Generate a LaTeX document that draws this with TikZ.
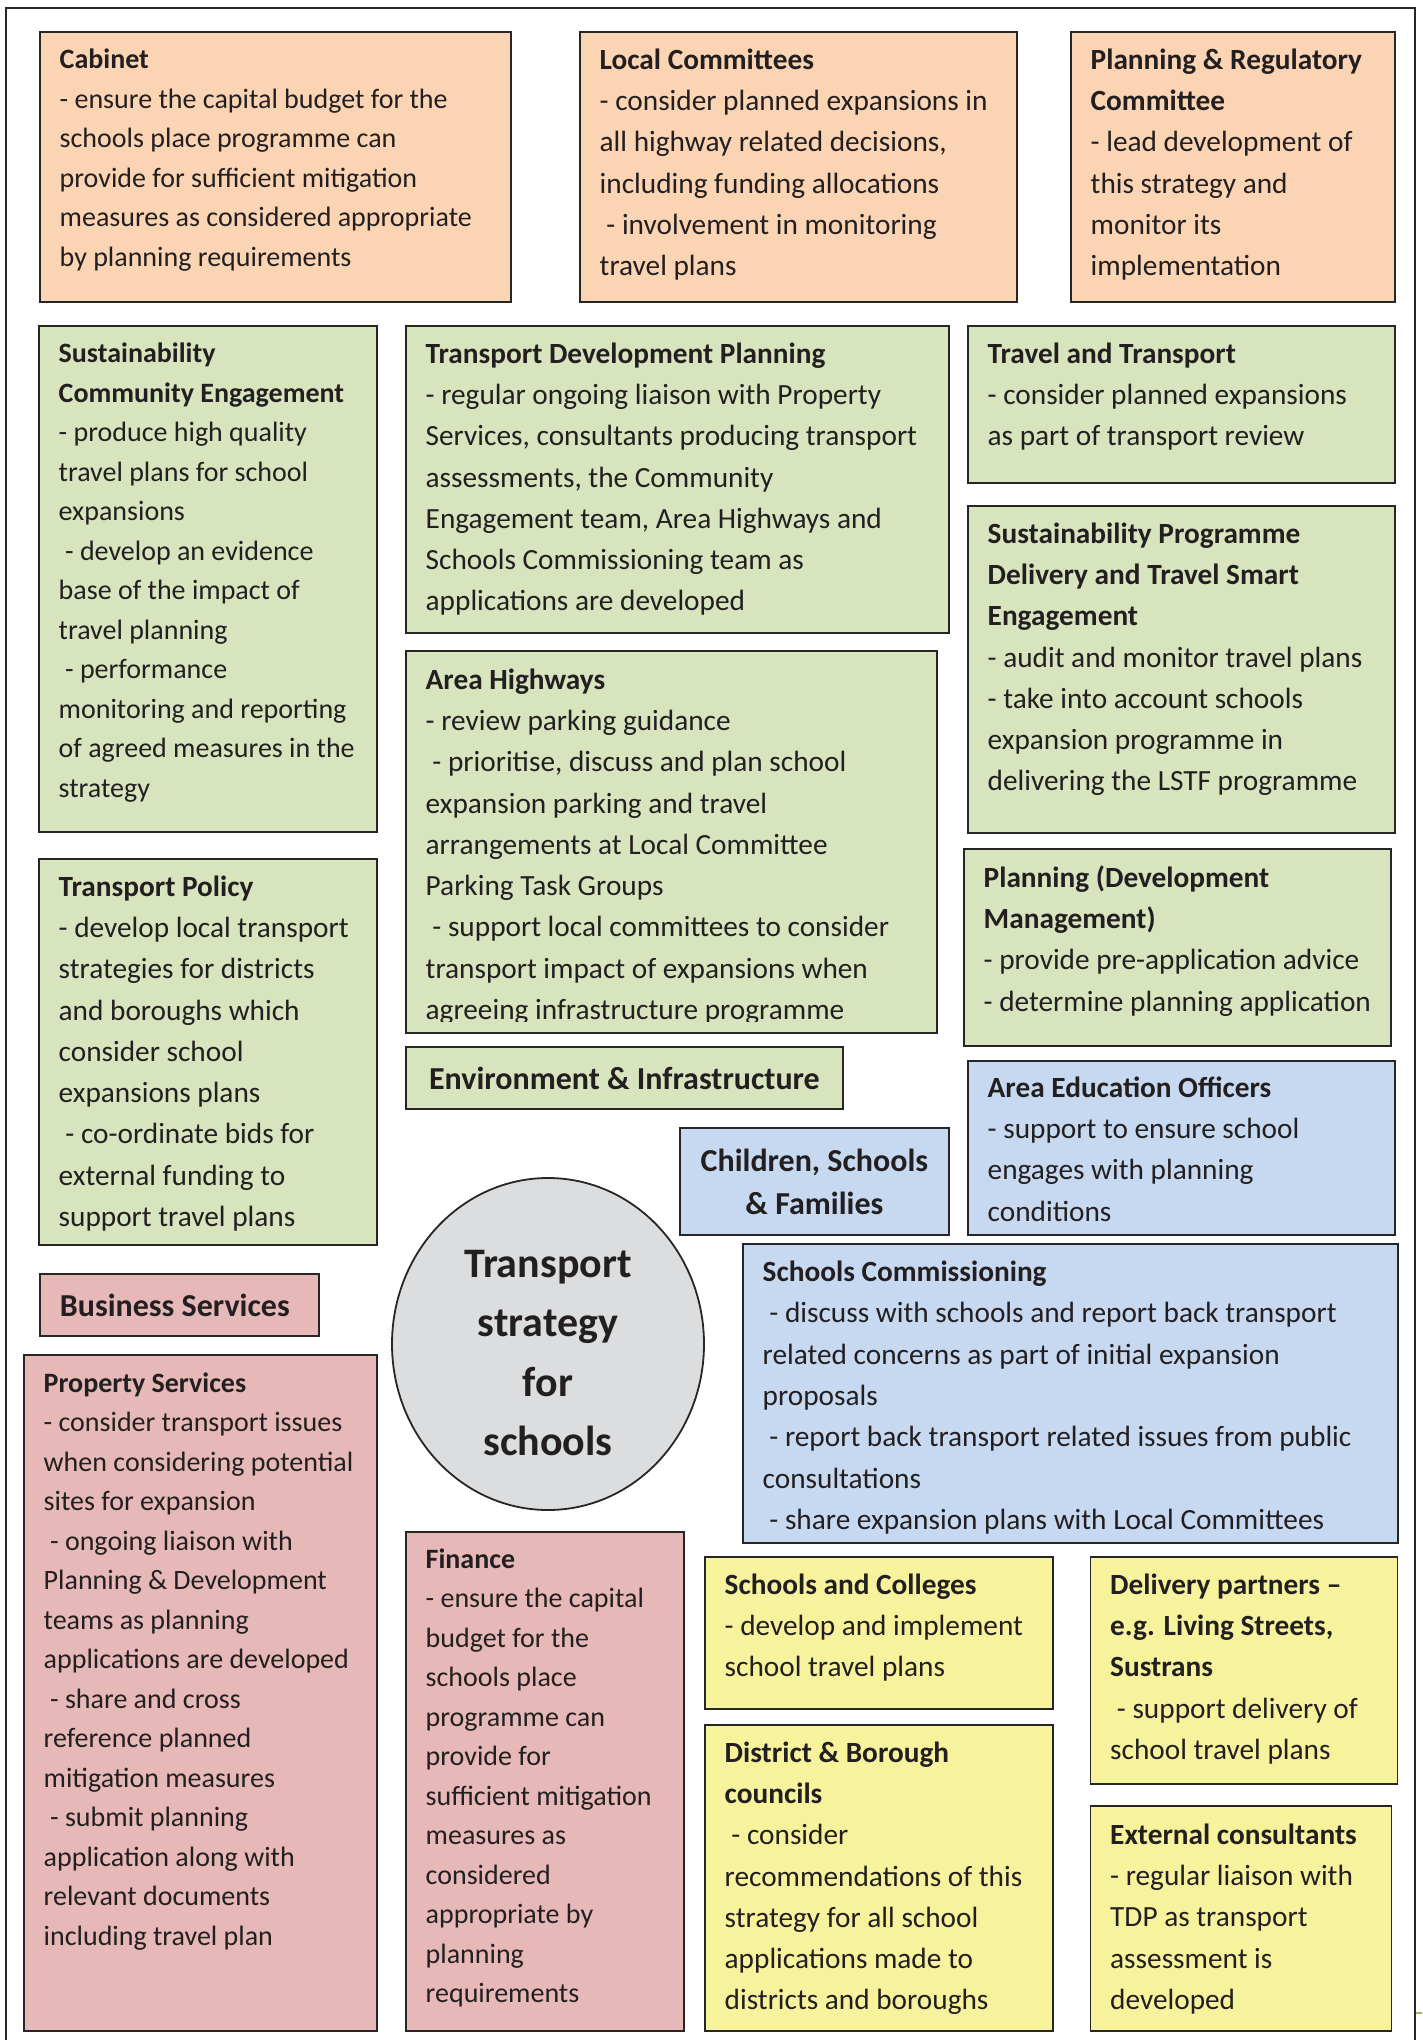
\documentclass[tikz,border=0pt]{standalone}
\usepackage{fontspec}
\setmainfont{Carlito}
\usetikzlibrary{shapes.geometric}

\definecolor{boxpeach}{HTML}{FBD4B4}
\definecolor{boxgreen}{HTML}{D7E4BD}
\definecolor{boxblue}{HTML}{C6D9F1}
\definecolor{boxpink}{HTML}{E6B9B8}
\definecolor{boxyellow}{HTML}{F7F29C}
\definecolor{circgray}{HTML}{DCDDDF}
\definecolor{edgegray}{HTML}{262626}
\definecolor{inkgray}{HTML}{231F20}
\definecolor{markgreen}{HTML}{9BBB59}

\newcommand{\bodyfont}{\fontsize{29.3}{41.3}\selectfont}
\newcommand{\tightfont}{\fontsize{28}{39.5}\selectfont}
\newcommand{\headfont}{\fontsize{32}{43}\selectfont\bfseries}
\newcommand{\circfont}{\fontsize{42}{59.3}\selectfont\bfseries}
\newcommand{\indt}{\hspace*{0.23em}}

\tikzset{
  orgbox/.style={draw=edgegray, line width=1.8pt, anchor=north west, inner sep=0pt, text=inkgray, font=\headfont},
  txt/.style={anchor=north west, inner sep=0pt, align=left, text=inkgray, font=\bodyfont},
  tight/.style={font=\tightfont},
}

\begin{document}
\begin{tikzpicture}[x=1pt,y=-1pt]

\useasboundingbox (0,0) rectangle (1422,2040);

% outer frame, open at the bottom
\draw[edgegray, line width=2pt] (5.5,2040) -- (5.5,7.5) -- (1415,7.5) -- (1415,2040);
\coordinate (mark) at (1416,2013);
\draw[markgreen, line width=2.5pt] (mark) -- ++(6,0);

% Top row: council bodies
\node[orgbox, fill=boxpeach, minimum width=471, minimum height=270] (cabinet) at (39,31) {};
\node[orgbox, fill=boxpeach, minimum width=437, minimum height=270] (localc) at (579,31) {};
\node[orgbox, fill=boxpeach, minimum width=324, minimum height=270] (planreg) at (1070,31) {};

\node[txt, tight] (cabinet-t) at ([shift={(20.5,10)}]cabinet.north west) {\strut\textbf{Cabinet}\\
- ensure the capital budget for the\\schools place programme can\\provide for sufficient mitigation\\
measures as considered appropriate\\by planning requirements};
\node[txt] (localc-t) at ([shift={(20.5,9)}]localc.north west) {\strut\textbf{Local Committees}\\
- consider planned expansions in\\all highway related decisions,\\including funding allocations\\
\indt- involvement in monitoring\\travel plans};
\node[txt] (planreg-t) at ([shift={(20.5,9)}]planreg.north west) {\strut\textbf{Planning \& Regulatory}\\
\textbf{Committee}\\- lead development of\\this strategy and\\monitor its\\implementation};

% Environment & Infrastructure teams
\node[orgbox, fill=boxgreen, minimum width=338, minimum height=506] (sustce) at (38,325) {};
\node[orgbox, fill=boxgreen, minimum width=543, minimum height=307] (tdp) at (405,325) {};
\node[orgbox, fill=boxgreen, minimum width=427, minimum height=157] (travel) at (967,325) {};
\node[orgbox, fill=boxgreen, minimum width=427, minimum height=327] (sustprog) at (967,505) {};
\node[orgbox, fill=boxgreen, minimum width=531, minimum height=382] (highways) at (405,650) {};
\node[orgbox, fill=boxgreen, minimum width=427, minimum height=197] (plandm) at (963,848) {};
\node[orgbox, fill=boxgreen, minimum width=338, minimum height=386] (policy) at (38,858) {};
\node[orgbox, fill=boxgreen, minimum width=437, minimum height=62] (envinf) at (405,1046) {Environment \& Infrastructure};

\node[txt, tight] (sustce-t) at ([shift={(20.5,10)}]sustce.north west) {\strut\textbf{Sustainability}\\
\textbf{Community Engagement}\\- produce high quality\\travel plans for school\\expansions\\
\indt- develop an evidence\\base of the impact of\\travel planning\\\indt- performance\\
monitoring and reporting\\of agreed measures in the\\strategy};
\node[txt] (tdp-t) at ([shift={(20.5,9)}]tdp.north west) {\strut\textbf{Transport Development Planning}\\
- regular ongoing liaison with Property\\Services, consultants producing transport\\
assessments, the Community\\Engagement team, Area Highways and\\
Schools Commissioning team as\\applications are developed};
\node[txt] (travel-t) at ([shift={(20.5,9)}]travel.north west) {\strut\textbf{Travel and Transport}\\
- consider planned expansions\\as part of transport review};
\node[txt] (sustprog-t) at ([shift={(20.5,9)}]sustprog.north west) {\strut\textbf{Sustainability Programme}\\
\textbf{Delivery and Travel Smart}\\\textbf{Engagement}\\- audit and monitor travel plans\\
- take into account schools\\expansion programme in\\delivering the LSTF programme};
\begin{scope}
\clip (highways.north west) rectangle (936,1021);
\node[txt] (highways-t) at ([shift={(20.5,10)}]highways.north west) {\strut\textbf{Area Highways}\\
- review parking guidance\\\indt- prioritise, discuss and plan school\\expansion parking and travel\\
arrangements at Local Committee\\Parking Task Groups\\\indt- support local committees to consider\\
transport impact of expansions when\\agreeing infrastructure programme};
\end{scope}
\node[txt] (plandm-t) at ([shift={(20.5,10)}]plandm.north west) {\strut\textbf{Planning (Development}\\
\textbf{Management)}\\- provide pre-application advice\\- determine planning application};
\node[txt] (policy-t) at ([shift={(20.5,9)}]policy.north west) {\strut\textbf{Transport Policy}\\
- develop local transport\\strategies for districts\\and boroughs which\\consider school\\
expansions plans\\\indt- co-ordinate bids for\\external funding to\\support travel plans};

% Children, Schools & Families teams
\node[orgbox, fill=boxblue, minimum width=427, minimum height=174] (areaed) at (967,1060) {};
\node[orgbox, fill=boxblue, minimum width=269, minimum height=107, align=center] (children) at (679,1127) {Children, Schools\\\& Families};
\node[orgbox, fill=boxblue, minimum width=655, minimum height=299] (schcomm) at (742,1243) {};

\node[txt] (areaed-t) at ([shift={(20.5,8)}]areaed.north west) {\strut\textbf{Area Education Officers}\\
- support to ensure school\\engages with planning\\conditions};
\node[txt] (schcomm-t) at ([shift={(20.5,9.5)}]schcomm.north west) {\strut\textbf{Schools Commissioning}\\
\indt- discuss with schools and report back transport\\related concerns as part of initial expansion\\
proposals\\\indt- report back transport related issues from public\\consultations\\
\indt- share expansion plans with Local Committees};

% the strategy itself
\node[ellipse, draw=edgegray, line width=1.8pt, fill=circgray, minimum width=312, minimum height=332,
  inner sep=0pt] (strategy) at (548,1344) {};
\node[align=center, inner sep=0pt, text=inkgray, font=\circfont] (strategy-t) at ([shift={(0,9)}]strategy.center) {Transport\\strategy\\for\\schools};

% Business Services teams
\node[orgbox, fill=boxpink, minimum width=279, minimum height=62] (business) at (39,1273) {};
\node[anchor=west, inner sep=0pt, text=inkgray, font=\headfont] (business-t) at ([shift={(20.7,0)}]business.west) {Business Services};
\node[orgbox, fill=boxpink, minimum width=353, minimum height=676] (property) at (23,1354) {};
\node[orgbox, fill=boxpink, minimum width=278, minimum height=499] (finance) at (405,1531) {};

\node[txt, tight] (property-t) at ([shift={(20.5,10.5)}]property.north west) {\strut\textbf{Property Services}\\
- consider transport issues\\when considering potential\\sites for expansion\\\indt- ongoing liaison with\\
Planning \& Development\\teams as planning\\applications are developed\\\indt- share and cross\\
reference planned\\mitigation measures\\\indt- submit planning\\application along with\\
relevant documents\\including travel plan};
\node[txt, tight] (finance-t) at ([shift={(20.5,9.5)}]finance.north west) {\strut\textbf{Finance}\\
- ensure the capital\\budget for the\\schools place\\programme can\\provide for\\
sufficient mitigation\\measures as\\considered\\appropriate by\\planning\\requirements};

% External partners
\node[orgbox, fill=boxyellow, minimum width=348, minimum height=152] (schcol) at (704,1556) {};
\node[orgbox, fill=boxyellow, minimum width=307, minimum height=227] (delivery) at (1089.5,1556) {};
\node[orgbox, fill=boxyellow, minimum width=348, minimum height=306] (district) at (704,1724) {};
\node[orgbox, fill=boxyellow, minimum width=301, minimum height=225] (external) at (1089.5,1805) {};

\node[txt] (schcol-t) at ([shift={(20.5,9)}]schcol.north west) {\strut\textbf{Schools and Colleges}\\
- develop and implement\\school travel plans};
\node[txt] (delivery-t) at ([shift={(20.5,9)}]delivery.north west) {\strut\textbf{Delivery partners –}\\
\textbf{e.g. Living Streets,}\\\textbf{Sustrans}\\\indt- support delivery of\\school travel plans};
\node[txt] (district-t) at ([shift={(20.5,9)}]district.north west) {\strut\textbf{District \& Borough}\\
\textbf{councils}\\\indt- consider\\recommendations of this\\strategy for all school\\
applications made to\\districts and boroughs};
\node[txt] (external-t) at ([shift={(20.5,10)}]external.north west) {\strut\textbf{External consultants}\\
- regular liaison with\\TDP as transport\\assessment is\\developed};

\end{tikzpicture}
\end{document}
